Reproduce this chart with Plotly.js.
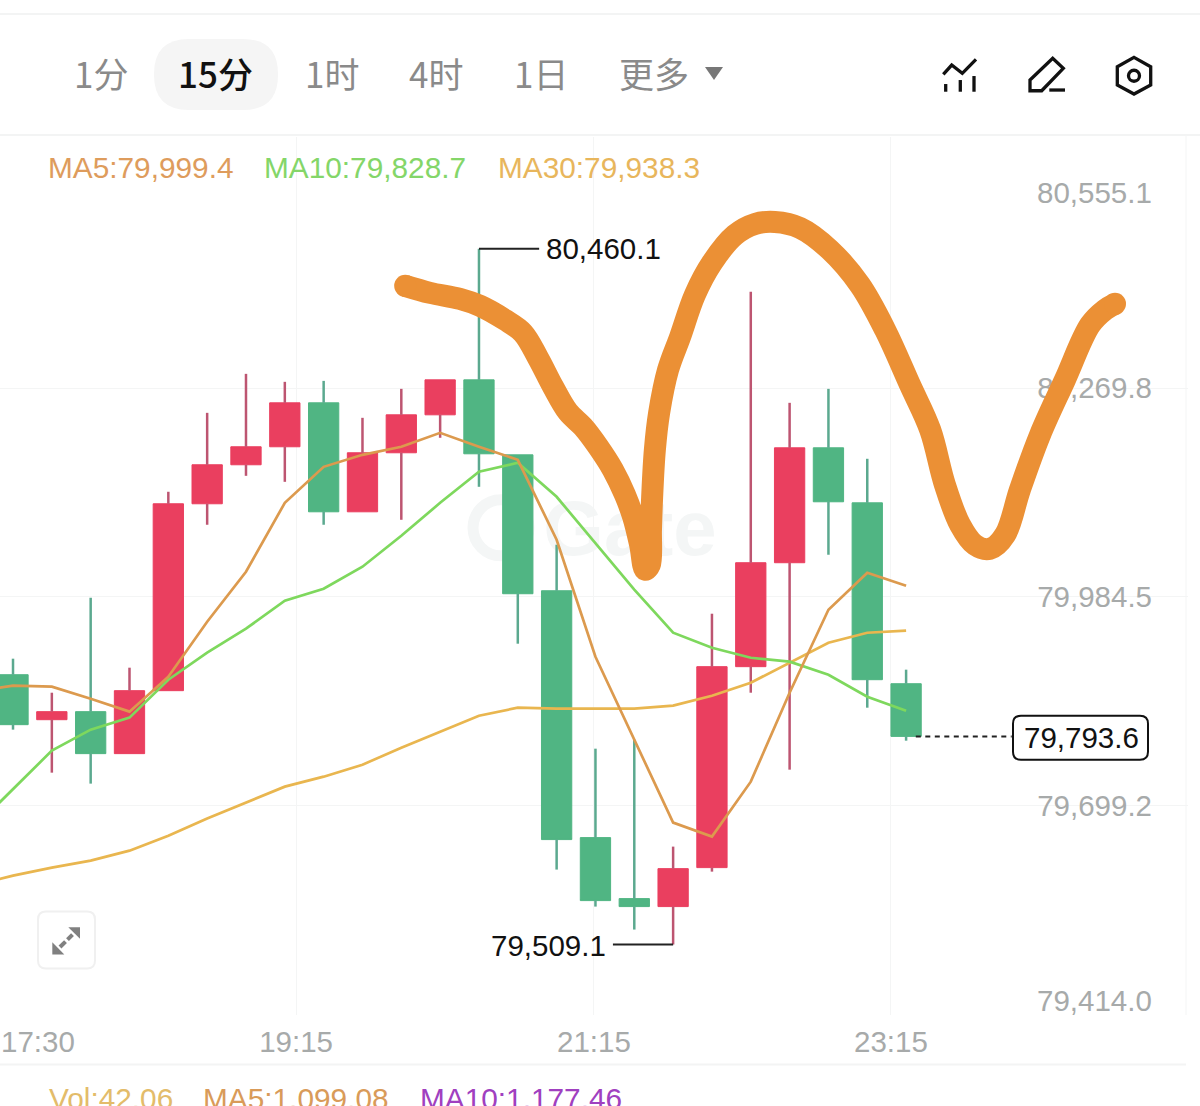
<!DOCTYPE html>
<html>
<head>
<meta charset="utf-8">
<script src="https://cdn.plot.ly/plotly-3.0.1.min.js"></script>
<style>html,body{margin:0;padding:0;background:#fff;overflow:hidden}#c{width:1200px;height:1106px}</style>
</head>
<body>
<div id="c"></div>
<script>
// ---- candles ----
const candleIdx = [0,1,2,3,4,5,6,7,8,9,10,11,12,13,14,15,16,17,18,19,20,21,22,23];
const opens  = [79877.9,79816.4,79827.4,79770.0,79856.1,80111.6,80164.9,80189.5,80249.6,80100.6,80181.3,80233.2,80281.0,80178.5,79992.7,79655.2,79571.8,79560.9,79614.2,79888.9,80031.0,80188.1,80112.9,79865.6];
const closes = [79809.6,79827.4,79770.0,79856.1,80111.6,80164.9,80189.5,80249.6,80100.6,80181.3,80233.2,80281.0,80179.9,79988.6,79652.5,79569.1,79560.9,79612.8,79888.9,80031.0,80188.1,80114.3,79871.1,79793.6];
const highs  = [79899.8,79853.3,79983.1,79887.5,80128.0,80235.9,80289.2,80278.3,80279.6,80229.1,80268.7,80281.0,80460.1,80178.5,80055.6,79776.8,79789.1,79642.9,79961.3,80401.3,80249.6,80268.7,80173.1,79884.8];
const lows   = [79802.8,79744.0,79729.0,79770.0,79856.1,80082.9,80149.8,80141.6,80082.9,80100.6,80089.7,80201.8,80134.8,79920.3,79611.5,79560.9,79529.5,79509.1,79608.7,79853.3,79748.1,80041.9,79832.8,79787.7];

// ---- moving averages ----
const maIdx = [-1,0,1,2,3,4,5,6,7,8,9,10,11,12,13,14,15,16,17,18,19,20,21,22,23];
const ma5  = [79854.7,79862.9,79861.5,79845.1,79827.4,79875.2,79950.3,80018.7,80112.9,80162.1,80178.5,80189.5,80208.6,80189.5,80171.7,80062.4,79902.5,79789.1,79675.7,79656.6,79731.7,79853.3,79966.7,80017.3,79999.4];
const ma10 = [79668.9,79722.2,79774.1,79802.8,79819.2,79871.1,79908.0,79940.8,79979.0,79995.4,80025.5,80067.9,80112.9,80155.3,80167.6,80121.1,80058.3,79994.1,79935.3,79914.8,79901.1,79895.7,79877.9,79847.9,79828.7];
const ma30 = [79589.6,79603.3,79614.2,79623.8,79637.4,79657.9,79681.2,79703.0,79724.9,79738.5,79754.9,79778.2,79800.0,79821.9,79832.8,79831.5,79831.5,79831.5,79835.6,79849.2,79867.0,79894.3,79921.6,79935.3,79938.3];

// ---- hand-drawn orange stroke, in chart units ----
const strokeX = [10.10,10.74,11.51,12.03,12.67,13.13,13.52,13.91,14.29,14.68,15.07,15.45,15.76,15.97,16.15,16.28,16.40,16.43,16.46,16.53,16.64,16.87,17.18,17.56,18.00,18.59,19.11,19.62,20.27,21.04,21.81,22.46,23.10,23.62,24.00,24.39,24.77,25.16,25.55,25.93,26.45,27.09,27.74,28.12,28.38];
const strokeY = [80409.5,80399.9,80391.7,80382.1,80363.0,80345.2,80311.1,80271.4,80237.3,80216.8,80189.5,80158.0,80123.9,80093.8,80055.6,80021.4,80028.2,80076.0,80121.1,80185.4,80235.9,80294.7,80339.8,80397.2,80440.9,80479.1,80494.2,80496.9,80488.7,80458.6,80410.8,80349.3,80274.2,80212.7,80137.5,80082.9,80055.6,80050.1,80069.2,80130.7,80205.9,80281.0,80356.2,80376.7,80384.9];

// ---- axes and labels ----
const priceTicks = [80269.8,79984.5,79699.2,79414.0];
const priceLabels = ['80,269.8','79,984.5','79,699.2',''];
const timeTicks = [-0.31,7.29,14.96,22.61];
const timeLabels = ['','19:15','21:15','23:15'];
const tabLabels = ['1分','15分','1时','4时','1日','更多'];
const highValue = 80460.1, lowValue = 79509.1, lastValue = 79793.6;

const W = 1188, H = 878.5, TOP = 137;
const fx = x => x / W;
const fy = y => (TOP + H - y) / H;
const LAT = '"Liberation Sans", Arial, sans-serif';
const CJK = '"Noto Sans CJK SC", sans-serif';
const GRID = '#f4f5f5', GREY = '#a7aaaa';
const RED = '#ea3f5f', GREEN = '#50b583', INK = '#eb9035';

function note(x, y, text, color, size, anchor, family, weight) {
  return {xref:'paper', yref:'paper', x:fx(x), y:fy(y), text:text, showarrow:false,
    xanchor:anchor||'left', yanchor:'middle', borderpad:0,
    font:{family:family||LAT, size:size||29.5, color:color, weight:weight||400}};
}
function poly(pts, close) {
  return pts.map((p,i)=>(i?'L':'M')+fx(p[0])+','+fy(p[1])).join(' ')+(close?' Z':'');
}
function rrect(x0,y0,x1,y1,r) {
  const P=(x,y)=>fx(x)+','+fy(y);
  return 'M'+P(x0+r,y0)+' L'+P(x1-r,y0)+' Q'+P(x1,y0)+' '+P(x1,y0+r)+' L'+P(x1,y1-r)+' Q'+P(x1,y1)+' '+P(x1-r,y1)+
    ' L'+P(x0+r,y1)+' Q'+P(x0,y1)+' '+P(x0,y1-r)+' L'+P(x0,y0+r)+' Q'+P(x0,y0)+' '+P(x0+r,y0)+' Z';
}
function pathShape(path, color, width, fill, layer) {
  return {type:'path', xref:'paper', yref:'paper', path:path, layer:layer||'above',
    line:{color:color, width:width}, fillcolor:fill||'rgba(0,0,0,0)'};
}
function hline(y, x0, x1) {
  return {type:'line', xref:'paper', yref:'paper', x0:fx(x0), x1:fx(x1), y0:fy(y), y1:fy(y), layer:'below', line:{color:'#f3f4f4', width:2}};
}
// wicks: the parts of high-low outside the open-close body
function wicks(rising, color) {
  const xs = [], ys = [];
  candleIdx.forEach((c, i) => {
    if ((closes[i] > opens[i]) !== rising) return;
    const top = Math.max(opens[i], closes[i]), bottom = Math.min(opens[i], closes[i]);
    xs.push(c, c, null, c, c, null);
    ys.push(highs[i], top, null, bottom, lows[i], null);
  });
  return {type:'scatter', mode:'lines', x:xs, y:ys, connectgaps:false, line:{color:color, width:2.5}, hoverinfo:'skip', showlegend:false};
}

const traces = [
  wicks(true, '#bd5571'),
  wicks(false, '#5ba98f'),
  {type:'candlestick', x:candleIdx, open:opens, close:closes,
   high:opens.map((o,i)=>Math.max(o,closes[i])), low:opens.map((o,i)=>Math.min(o,closes[i])), whiskerwidth:0,
   increasing:{line:{color:RED, width:1}, fillcolor:RED},
   decreasing:{line:{color:GREEN, width:1}, fillcolor:GREEN}, hoverinfo:'skip', showlegend:false},
  {type:'scatter', mode:'lines', x:maIdx, y:ma30, line:{color:'#e9b64f', width:2.7}, hoverinfo:'skip', showlegend:false},
  {type:'scatter', mode:'lines', x:maIdx, y:ma10, line:{color:'#7ed85d', width:2.7}, hoverinfo:'skip', showlegend:false},
  {type:'scatter', mode:'lines', x:maIdx, y:ma5,  line:{color:'#dc9a4e', width:2.7}, hoverinfo:'skip', showlegend:false},
  {type:'scatter', mode:'lines+markers', x:strokeX, y:strokeY, line:{color:INK, width:22, shape:'spline', smoothing:1},
   marker:{color:INK, opacity:1, size:strokeX.map((v,i)=>(i===0||i===strokeX.length-1)?22:0), line:{width:0}}, hoverinfo:'skip', showlegend:false}
];

const tabX = [101,215,332,436,541,654];
const annotations = tabLabels.map((t,i)=>note(tabX[i],72,t,i===1?'#111111':'#8a8a8a',35,'center',CJK,i===1?500:400));
annotations.push(
  note(47,168,'MA5:79,999.4','#de9c5c',29.8),
  note(263,168,'MA10:79,828.7','#84d669',29.8),
  note(497,168,'MA30:79,938.3','#e8b65c',29.8),
  note(1153,193,'80,555.1',GREY,29.5,'right'),
  note(1153,1001,'79,414.0',GREY,29.5,'right'),
  note(0,1042,'17:30',GREY,29.5,'left'),
  note(545,249,'80,460.1','#111111',29.5),
  note(607,946,'79,509.1','#111111',29.5,'right'),
  note(1081,738,'79,793.6','#111111',29.5,'center'),
  note(48,1099,'Vol:42.06','#e3bc6a',29.8),
  note(202,1099,'MA5:1,099.08','#d99b59',29.8),
  note(419,1099,'MA10:1,177.46','#a040c0',29.8)
);

const shapes = [
  hline(14,0,1200), hline(135,0,1200), hline(1065,0,1186),
  pathShape(rrect(154,39,278,110,35),'rgba(0,0,0,0)',0,'#f5f5f5','below'),
  pathShape(rrect(38,912,95,969,8),'#f0f0f0',2,'#ffffff','below'),
  // watermark
  {type:'circle', xref:'paper', yref:'paper', x0:fx(473), x1:fx(529), y0:fy(500), y1:fy(556), layer:'below', line:{color:'#f4f6f6', width:11}},
  {type:'rect', xref:'paper', yref:'paper', x0:fx(540), x1:fx(720), y0:fy(489), y1:fy(554), layer:'below', line:{width:0},
   label:{text:'Gate', textposition:'middle center', font:{family:LAT, size:78, color:'#f4f6f6', weight:700}}},
  // frame verticals
  {type:'line', xref:'paper', yref:'paper', x0:fx(1186), x1:fx(1186), y0:fy(135), y1:0, layer:'below', line:{color:GRID, width:1}},
  // dropdown triangle
  pathShape(poly([[705,67],[723,67],[714,80]],true),'#777777',0,'#777777'),
  // indicator icon
  pathShape(poly([[943.3,74.3],[951.7,65],[962.3,73.3],[976,59.3]]),'#111111',3.3),
  pathShape(poly([[945.7,84],[945.7,91.7]]),'#111111',3.3),
  pathShape(poly([[960.3,80],[960.3,91.7]]),'#111111',3.3),
  pathShape(poly([[974,76],[974,91.7]]),'#111111',3.3),
  // pencil icon
  pathShape(poly([[1030,90.7],[1030,80],[1052.7,58.3],[1063.3,68.3],[1041.7,90.7]],true),'#111111',3.3),
  pathShape(poly([[1049.3,90],[1065,90]]),'#111111',3.3),
  // settings icon
  pathShape(poly([[1134,57.3],[1150.7,66.7],[1150.7,85],[1134,94],[1117.3,85],[1117.3,66.7]],true),'#111111',3.3),
  {type:'circle', xref:'paper', yref:'paper', x0:fx(1128.5), x1:fx(1139.5), y0:fy(70.2), y1:fy(81.2), layer:'above', line:{color:'#111111', width:3.3}},
  // expand icon
  pathShape(poly([[68.3,927.7],[80,927.7],[80,939.3]],true),'#808080',0,'#808080'),
  pathShape(poly([[72.5,935],[67.5,940]]),'#808080',4),
  pathShape(poly([[52.3,942.7],[52.3,955],[64.3,955]],true),'#808080',0,'#808080'),
  pathShape(poly([[60,947.5],[65.5,942]]),'#808080',4),
  // high / low callouts and last price
  {type:'line', xref:'x', yref:'y', x0:12, x1:13.55, y0:highValue, y1:highValue, layer:'above', line:{color:'#222222', width:2}},
  {type:'line', xref:'x', yref:'y', x0:17, x1:15.45, y0:lowValue, y1:lowValue, layer:'above', line:{color:'#222222', width:2}},
  {type:'line', xref:'x', yref:'y', x0:23.25, x1:25.72, y0:lastValue, y1:lastValue, layer:'above', line:{color:'#222222', width:2, dash:'5px,4.5px'}},
  pathShape(rrect(1013,716,1148,760,8),'#111111',2,'#ffffff')
];

const layout = {
  width:1200, height:1106, autosize:false,
  margin:{l:0, r:12, t:TOP, b:90.5, pad:0},
  paper_bgcolor:'#ffffff', plot_bgcolor:'#ffffff',
  showlegend:false, hovermode:false, boxmode:'overlay', boxgap:0.22, boxgroupgap:0,
  xaxis:{type:'linear', range:[-0.335,30.26], rangeslider:{visible:false}, fixedrange:true,
    tickmode:'array', tickvals:timeTicks, ticktext:timeLabels, ticks:'', showline:false, zeroline:false,
    showgrid:true, gridcolor:GRID, gridwidth:1, ticklabelstandoff:6,
    tickfont:{family:LAT, size:29.5, color:GREY}},
  yaxis:{type:'linear', range:[79412.7,80613.0], fixedrange:true, side:'right', layer:'below traces',
    tickmode:'array', tickvals:priceTicks, ticktext:priceLabels, ticks:'', showline:false, zeroline:false,
    showgrid:true, gridcolor:GRID, gridwidth:1, ticklabelposition:'inside', ticklabelstandoff:33,
    tickfont:{family:LAT, size:29.5, color:GREY}},
  annotations:annotations, shapes:shapes
};
Plotly.newPlot('c', traces, layout, {displayModeBar:false, responsive:false});
</script>
</body>
</html>
